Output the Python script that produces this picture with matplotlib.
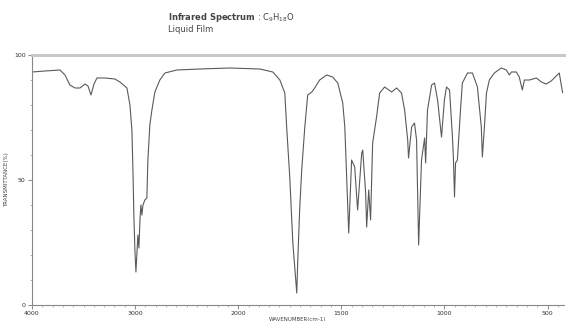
import numpy as np
import matplotlib
matplotlib.use('Agg')
import matplotlib.pyplot as plt
from matplotlib.ticker import FixedLocator

# spectrum: wavenumber (cm-1) and transmittance (%)
wavenumber = [4000, 3874, 3729, 3680, 3632, 3583, 3535, 3486, 3457, 3428, 3399, 3370,
              3293, 3196, 3147, 3079, 3050, 3031, 3021, 3012, 3002, 2992, 2983, 2973,
              2963, 2953, 2944, 2934, 2924, 2905, 2886, 2876, 2857, 2837, 2808, 2760,
              2711, 2595, 2372, 2081, 1895, 1832, 1798, 1774, 1765, 1750, 1735, 1716,
              1711, 1702, 1692, 1677, 1663, 1643, 1629, 1605, 1571, 1542, 1517, 1493,
              1483, 1474, 1464, 1450, 1435, 1421, 1401, 1396, 1382, 1377, 1367, 1358,
              1348, 1329, 1314, 1290, 1256, 1232, 1208, 1193, 1178, 1174, 1159, 1145,
              1135, 1130, 1125, 1111, 1096, 1091, 1082, 1062, 1048, 1033, 1014, 1000,
              990, 975, 961, 956, 951, 946, 937, 922, 913, 888, 864, 840, 821, 816,
              806, 796, 782, 758, 724, 700, 685, 675, 651, 637, 622, 612, 588, 554,
              530, 506, 482, 443, 427]
transmittance = [93.2, 93.6, 94.0, 92.0, 88.0, 86.8, 86.8, 88.4, 87.6, 84.0, 88.4, 90.8,
                 90.8, 90.4, 89.2, 86.8, 80.0, 70.0, 54.0, 36.0, 22.0, 13.2, 20.0, 28.0,
                 22.8, 34.0, 40.0, 36.0, 40.0, 42.0, 42.8, 58.0, 72.0, 78.0, 85.2, 90.0,
                 92.8, 94.0, 94.4, 94.8, 94.4, 93.2, 90.0, 84.8, 71.2, 51.2, 24.8, 4.8,
                 18.0, 38.0, 54.0, 71.2, 84.0, 85.2, 86.8, 90.0, 92.0, 91.2, 88.8, 80.8,
                 71.2, 51.2, 28.8, 58.0, 55.2, 38.0, 60.8, 62.0, 44.8, 31.2, 46.0, 34.0,
                 64.8, 75.2, 84.8, 87.2, 85.2, 86.8, 84.8, 78.0, 66.0, 58.8, 71.2, 72.8,
                 66.0, 44.8, 24.0, 58.0, 66.8, 56.8, 78.0, 88.0, 88.8, 82.0, 67.2, 82.0,
                 87.2, 86.0, 67.2, 58.0, 43.2, 56.8, 58.0, 78.0, 88.8, 92.8, 92.8, 87.2,
                 71.2, 59.2, 71.2, 84.8, 90.0, 92.8, 94.8, 94.0, 92.0, 93.2, 93.2, 91.2,
                 86.0, 90.0, 90.0, 90.8, 89.2, 88.4, 89.6, 92.8, 85.0]

x_ticks = [4000, 3000, 2000, 1500, 1000, 500]
y_ticks = [0, 50, 100]


# axis is compressed above 2000 cm-1 (1000 per division) and expanded below (500 per division)
def fwd(w):
    w = np.asarray(w, dtype=float)
    return np.where(w >= 2000, (w - 2000) / 1000.0, (w - 2000) / 500.0)


def inv(u):
    u = np.asarray(u, dtype=float)
    return np.where(u >= 0, 2000 + u * 1000.0, 2000 + u * 500.0)


fig = plt.figure(figsize=(5.66, 3.21), dpi=100)
ax = fig.add_axes([32 / 566, 1 - 305 / 321, (564 - 32) / 566, 250 / 321])

ax.plot(wavenumber, transmittance, color='#5a5a5a', lw=0.8)
ax.set_xscale('function', functions=(fwd, inv))
ax.set_xlim(4000, 420)
ax.set_ylim(0, 100)

minors = list(range(4000, 2000, -100)) + list(range(2000, 400, -50))
ax.xaxis.set_major_locator(FixedLocator(x_ticks))
ax.xaxis.set_minor_locator(FixedLocator(minors))
ax.set_xticklabels([str(t) for t in x_ticks])
ax.set_yticks(y_ticks)
ax.yaxis.set_minor_locator(FixedLocator(list(range(0, 101, 10))))
ax.tick_params(axis='both', which='major', labelsize=4.5, length=3, width=0.6,
               color='#777777', labelcolor='#333333', pad=1.5)
ax.tick_params(axis='both', which='minor', length=1.5, width=0.5, color='#999999')

for side in ['left', 'bottom']:
    ax.spines[side].set_color('#888888')
    ax.spines[side].set_linewidth(0.8)
ax.spines['right'].set_visible(False)
ax.spines['top'].set_color('#c8c8c8')
ax.spines['top'].set_linewidth(2.2)

ax.set_xlabel('WAVENUMBER(cm-1)', fontsize=4, color='#444444', labelpad=0.5)
ax.set_ylabel('TRANSMITTANCE(%)', fontsize=4, color='#444444', labelpad=4)

fig.text(168 / 566, 1 - 17 / 321, r'$\bf{Infrared\ Spectrum}$ : C$_9$H$_{18}$O',
         fontsize=6, color='#444444', va='center', ha='left')
fig.text(168 / 566, 1 - 30 / 321, 'Liquid Film', fontsize=6, color='#444444',
         va='center', ha='left')

fig.savefig('out.png', dpi=100)
